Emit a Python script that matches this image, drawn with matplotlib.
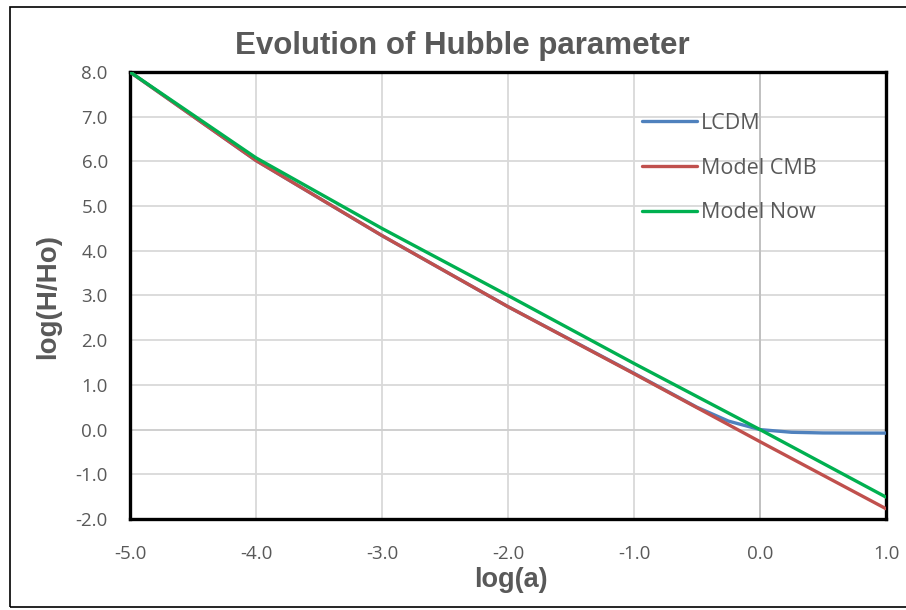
import matplotlib
matplotlib.use("Agg")
import matplotlib.pyplot as plt
from matplotlib.patches import Rectangle

# Data
lcdm_x = [-5.0, -4.0, -3.0, -2.0, -1.0, -0.75, -0.5, -0.25, 0.0, 0.25, 0.5, 0.75, 1.0]
lcdm_y = [8.0, 6.02, 4.34, 2.75, 1.26, 0.88, 0.50, 0.19, 0.0, -0.06, -0.075, -0.077, -0.078]

cmb_x = [-5.0, -4.0, -3.0, -2.0, -1.0, 0.0, 1.0]
cmb_y = [8.0, 6.02, 4.34, 2.75, 1.25, -0.27, -1.77]

now_x = [-5.0, -4.0, -3.0, -2.0, -1.0, 0.0, 1.0]
now_y = [8.0, 6.08, 4.50, 3.0, 1.48, 0.0, -1.51]

x_ticks = [-5.0, -4.0, -3.0, -2.0, -1.0, 0.0, 1.0]
y_ticks = [8.0, 7.0, 6.0, 5.0, 4.0, 3.0, 2.0, 1.0, 0.0, -1.0, -2.0]

W, H = 906, 610
fig = plt.figure(figsize=(W / 100, H / 100), dpi=100)
ax = fig.add_axes([130 / W, 1 - 519 / H, (886 - 130) / W, (519 - 72) / H])

txt = "#595959"
tick_font = "Open Sans"
bold_font = "Liberation Sans"
tick_size = 13.5

ax.set_xlim(-5, 1)
ax.set_ylim(-2, 8)
ax.set_xticks(x_ticks)
ax.set_yticks(y_ticks)
ax.set_xticklabels([f"{v:.1f}" for v in x_ticks], fontfamily=tick_font, fontsize=tick_size, color=txt)
ax.set_yticklabels([f"{v:.1f}" for v in y_ticks], fontfamily=tick_font, fontsize=tick_size, color=txt)
ax.tick_params(axis='x', length=0, pad=18.5)
ax.tick_params(axis='y', length=0, pad=16)

ax.grid(True, color="#d9d9d9", linewidth=1.3)
ax.set_axisbelow(True)
ax.axvline(0, color="#bfbfbf", linewidth=1.3, zorder=1)
ax.axhline(0, color="#cfcfcf", linewidth=1.3, zorder=1)

for s in ax.spines.values():
    s.set_linewidth(2.4)
    s.set_color("black")

ax.plot(lcdm_x, lcdm_y, color="#4f81bd", linewidth=2.4, label="LCDM", zorder=3, solid_capstyle='round')
ax.plot(cmb_x, cmb_y, color="#c0504d", linewidth=2.4, label="Model CMB", zorder=4, solid_capstyle='round')
ax.plot(now_x, now_y, color="#00b050", linewidth=2.4, label="Model Now", zorder=5, solid_capstyle='round')

leg_size = 15.5
leg_px = leg_size * 100 / 72
leg = ax.legend(loc="upper left", bbox_to_anchor=((642 - 130) / 756, (519 - 113) / 447),
                frameon=False, borderpad=0, borderaxespad=0,
                handlelength=55 / leg_px, handletextpad=4 / leg_px,
                labelspacing=1.1, prop={"family": tick_font, "size": leg_size})
for t in leg.get_texts():
    t.set_color(txt)

fig.text(462 / W, 1 - 46 / H, "Evolution of Hubble parameter", ha="center", va="center",
         fontfamily=bold_font, fontweight="bold", fontsize=22.5, color=txt)
fig.text(511 / W, 1 - 580 / H, "log(a)", ha="center", va="center",
         fontfamily=bold_font, fontweight="bold", fontsize=19.5, color=txt)
fig.text(48.5 / W, 1 - 297 / H, "log(H/Ho)", ha="center", va="center", rotation=90,
         fontfamily=bold_font, fontweight="bold", fontsize=20, color=txt)

fig.patches.append(Rectangle((10 / W, 3 / H), (W + 20) / W, (603 - 3) / H, transform=fig.transFigure,
                             fill=False, edgecolor="black", linewidth=1.2))

fig.savefig("out.png", dpi=100)
